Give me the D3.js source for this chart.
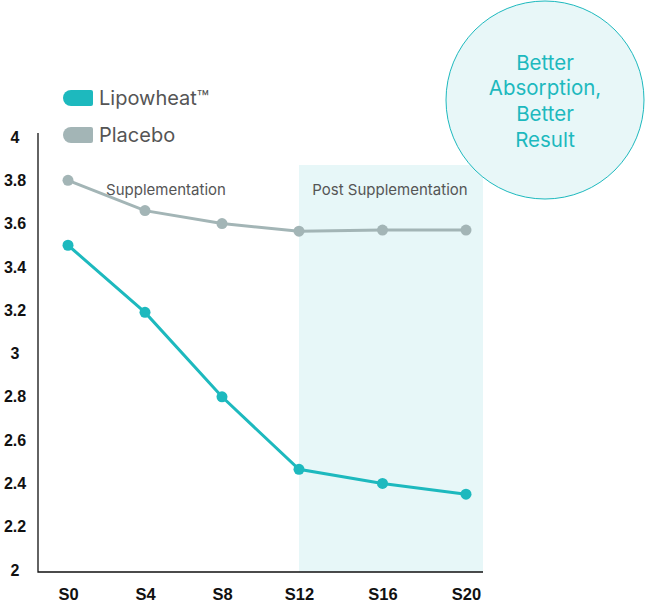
<!DOCTYPE html>
<html>
<head>
<meta charset="utf-8">
<script src="https://cdn.jsdelivr.net/npm/d3@7"></script>
<style>
  body { margin: 0; background: #fff; }
  svg { display: block; font-family: Inter, "Liberation Sans", Arial, sans-serif; }
</style>
</head>
<body>
<svg id="chart" width="646" height="606"></svg>
<script>
// data
const sessions = ["S0", "S4", "S8", "S12", "S16", "S20"];
const weeks = [0, 4, 8, 12, 16, 20];
const lipowheat = [3.50, 3.19, 2.80, 2.465, 2.40, 2.35];
const placebo = [3.80, 3.66, 3.60, 3.565, 3.57, 3.57];
const yTicks = [2, 2.2, 2.4, 2.6, 2.8, 3, 3.2, 3.4, 3.6, 3.8, 4];
const seriesNames = ["Lipowheat™", "Placebo"];
const phaseLabels = ["Supplementation", "Post Supplementation"];
const badgeLines = ["Better", "Absorption,", "Better", "Result"];

const teal = "#1db9be";
const grey = "#a3b5b6";

const svg = d3.select("#chart");

// post-supplementation weeks are drawn a bit wider apart than the first phase
let x = d3.scaleLinear().domain([0, 12, 20]).range([68, 299, 466]);
let y = d3.scaleLinear().domain([2, 4]).range([570, 137]);
let axisRight = 483;

// shaded post-supplementation area
svg.append("rect")
    .attr("x", x(12))
    .attr("y", 165)
    .attr("width", axisRight - x(12))
    .attr("height", y(2) + 2 - 165)
    .attr("fill", "#e7f7f8");

// badge circle
let badge = svg.append("g").attr("transform", "translate(545,100)");
badge.append("circle")
    .attr("r", 99)
    .attr("fill", "#e8f7f8")
    .attr("stroke", teal)
    .attr("stroke-width", 1);
badge.selectAll("text")
    .data(badgeLines)
    .enter().append("text")
    .attr("text-anchor", "middle")
    .attr("y", function(d, i) { return -38 + i * 25.7 + 7.5; })
    .attr("font-size", 20.5)
    .attr("fill", teal)
    .text(function(d) { return d; });

// axes
let yAxis = svg.append("g")
    .attr("transform", "translate(15,0)")
    .call(d3.axisLeft(y).tickValues(yTicks).tickSize(0).tickPadding(0)
        .tickFormat(function(d) { return d3.format("~g")(d); }));
yAxis.select(".domain").remove();
yAxis.selectAll("text")
    .attr("text-anchor", "middle")
    .attr("font-size", 16)
    .attr("font-weight", "bold")
    .attr("fill", "#111");

let xAxis = svg.append("g")
    .attr("transform", "translate(0," + (y(2) + 2) + ")")
    .call(d3.axisBottom(x).tickValues(weeks).tickSize(0).tickPadding(16)
        .tickFormat(function(d, i) { return sessions[i]; }));
xAxis.select(".domain").remove();
xAxis.selectAll("text")
    .attr("font-size", 16.5)
    .attr("font-weight", "bold")
    .attr("fill", "#111");

svg.append("path")
    .attr("d", "M38," + (y(4) - 4) + "V" + (y(2) + 2) + "H" + axisRight)
    .attr("fill", "none")
    .attr("stroke", "#111")
    .attr("stroke-width", 1.3);

// phase labels
svg.append("text")
    .attr("x", 166).attr("y", 194.5)
    .attr("text-anchor", "middle")
    .attr("font-size", 15)
    .attr("fill", "#555")
    .text(phaseLabels[0]);
svg.append("text")
    .attr("x", 390).attr("y", 194.5)
    .attr("text-anchor", "middle")
    .attr("font-size", 15)
    .attr("fill", "#555")
    .text(phaseLabels[1]);

// lines + dots
let line = d3.line()
    .x(function(d, i) { return x(weeks[i]); })
    .y(function(d) { return y(d); });

[[placebo, grey], [lipowheat, teal]].forEach(function(s) {
    svg.append("path")
        .datum(s[0])
        .attr("d", line)
        .attr("fill", "none")
        .attr("stroke", s[1])
        .attr("stroke-width", 3);
    svg.append("g").selectAll("circle")
        .data(s[0])
        .enter().append("circle")
        .attr("cx", function(d, i) { return x(weeks[i]); })
        .attr("cy", function(d) { return y(d); })
        .attr("r", 5.5)
        .attr("fill", s[1]);
});

// legend
let legend = svg.append("g").attr("transform", "translate(63,90)");
let swatch = "M8,0H28a2,2 0 0 1 2,2V14a2,2 0 0 1 -2,2H8a8,8 0 0 1 -8,-8a8,8 0 0 1 8,-8Z";
seriesNames.forEach(function(name, i) {
    let g = legend.append("g").attr("transform", "translate(0," + (i * 37) + ")");
    g.append("path").attr("d", swatch).attr("fill", i === 0 ? teal : grey);
    g.append("text")
        .attr("x", 36).attr("y", 15)
        .attr("font-size", 20)
        .attr("fill", "#555")
        .text(name);
});
</script>
</body>
</html>
